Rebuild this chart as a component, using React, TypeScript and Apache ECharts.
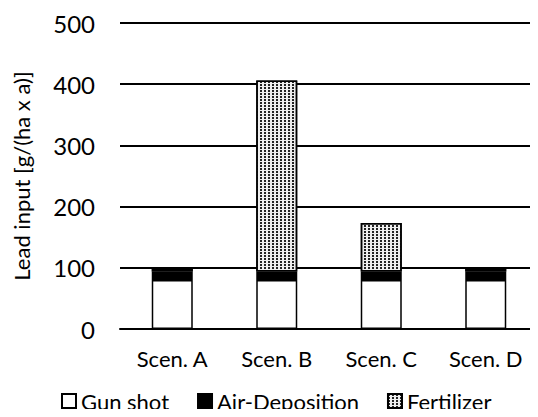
import React, { useEffect, useRef } from "react";
import * as echarts from "echarts";

const categories = ["Scen. A", "Scen. B", "Scen. C", "Scen. D"];
const gunShot = [80, 80, 80, 80];
const airDeposition = [14, 14, 14, 14];
const fertilizer = [5, 312, 79, 5];
const yTicks = { min: 0, max: 500, interval: 100 };

const FONT = "Lato";

export default function App() {
  const ref = useRef<HTMLDivElement>(null);
  useEffect(() => {
    if (!ref.current) return;
    const chart = echarts.init(ref.current, null, { renderer: "svg" });
    const barBorder = { borderColor: "#000", borderWidth: 1.5 };
    chart.setOption({
      animation: false,
      backgroundColor: "#fff",
      textStyle: { fontFamily: FONT, color: "#000" },
      grid: { left: 120, right: 0, top: 23, bottom: 88, containLabel: false },
      legend: {
        left: 61,
        top: 389,
        padding: 0,
        itemWidth: 14,
        itemHeight: 14,
        itemGap: 28,
        icon: "rect",
        textStyle: { fontFamily: FONT, fontSize: 22, color: "#000", lineHeight: 24 },
        data: ["Gun shot", "Air-Deposition", "Fertilizer"],
      },
      xAxis: {
        type: "category",
        data: categories,
        axisLine: { lineStyle: { color: "#000", width: 2 } },
        axisTick: { show: false },
        axisLabel: { fontFamily: FONT, fontSize: 22, color: "#000", margin: 18 },
      },
      yAxis: {
        type: "value",
        min: yTicks.min,
        max: yTicks.max,
        interval: yTicks.interval,
        name: "Lead input [g/(ha x a)]",
        nameLocation: "middle",
        nameGap: 88,
        nameTextStyle: { fontFamily: FONT, fontSize: 22, color: "#000" },
        axisLine: { show: false },
        axisTick: { show: false },
        splitLine: { lineStyle: { color: "#000", width: 2 } },
        axisLabel: { fontFamily: FONT, fontSize: 24, color: "#000", margin: 25 },
      },
      series: [
        {
          name: "Gun shot",
          type: "bar",
          stack: "total",
          barWidth: 41,
          data: gunShot,
          itemStyle: { color: "#fff", ...barBorder },
        },
        {
          name: "Air-Deposition",
          type: "bar",
          stack: "total",
          barWidth: 41,
          data: airDeposition,
          itemStyle: { color: "#000", ...barBorder },
        },
        {
          name: "Fertilizer",
          type: "bar",
          stack: "total",
          barWidth: 41,
          data: fertilizer,
          itemStyle: {
            color: "#eeeeee",
            ...barBorder,
            decal: {
              symbol: "rect",
              symbolSize: 1,
              color: "#222",
              dashArrayX: [2, 2],
              dashArrayY: [2, 1],
              rotation: 0,
            },
          },
        },
      ],
    });
    return () => chart.dispose();
  }, []);
  return <div ref={ref} style={{ width: 538, height: 417, margin: -8 }} />;
}
